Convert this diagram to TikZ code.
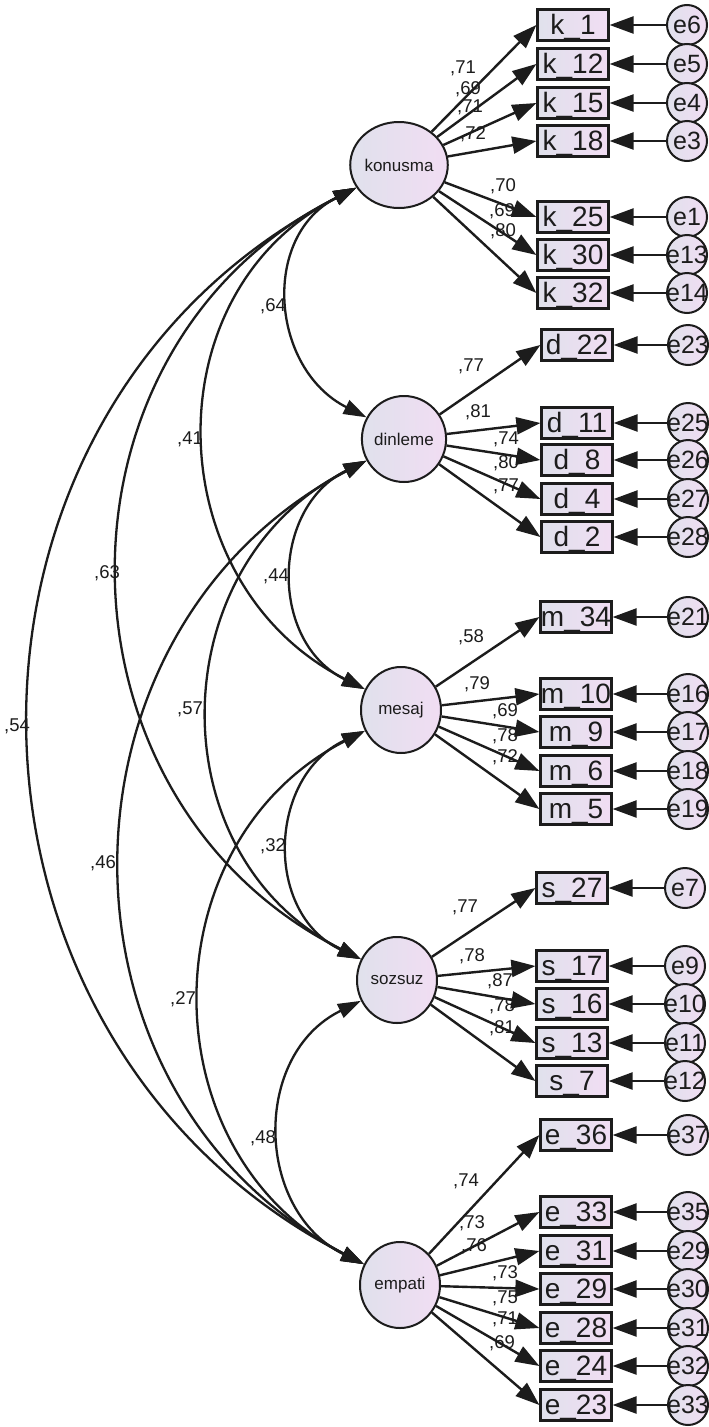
\documentclass[tikz,border=0pt]{standalone}
\usepackage{fontspec}
\setmainfont{Liberation Sans}
\usetikzlibrary{arrows.meta,shapes.geometric}
\definecolor{ink}{RGB}{28,28,28}
\definecolor{fillL}{RGB}{224,225,236}
\definecolor{fillR}{RGB}{241,221,243}
\newcommand{\zw}[1]{\makebox[0pt]{#1}}
\tikzset{
 lat/.style={ellipse, draw=ink, line width=2pt, minimum width=80pt, minimum height=86pt, inner sep=0pt, left color=fillL, right color=fillR, font=\fontsize{17}{19}\selectfont, text=ink},
 obs/.style={rectangle, draw=ink, line width=2.2pt, minimum width=71pt, minimum height=31pt, inner sep=0pt, text height=24pt, text depth=6pt, left color=fillL, right color=fillR, font=\fontsize{28}{30}\selectfont, text=ink},
 err/.style={circle, draw=ink, line width=2pt, minimum size=40pt, inner sep=0pt, left color=fillL, right color=fillR, font=\fontsize{25}{27}\selectfont, text=ink},
 load/.style={draw=ink, line width=2.4pt, -{Triangle[length=24pt,width=17pt]}},
 cov/.style={draw=ink, line width=2.3pt, {Triangle[length=23pt,width=15pt]}-{Triangle[length=23pt,width=15pt]}},
 coef/.style={font=\fontsize{18.5}{20}\selectfont, text=ink, inner sep=0pt, anchor=base},
}
\begin{document}
\begin{tikzpicture}[x=1pt,y=1pt]
\useasboundingbox (0,0) rectangle (709,-1427);
\clip (0,0) rectangle (709,-1427);
\fill[white] (0,0) rectangle (709,-1427);
% coefficient labels (loadings)
\node[coef] (c1) at (463,-73.5) {,71};
\node[coef] (c2) at (468,-94.5) {,69};
\node[coef] (c3) at (470,-112.5) {,71};
\node[coef] (c4) at (473,-139.5) {,72};
\node[coef] (c5) at (503,-191.5) {,70};
\node[coef] (c6) at (502,-216.5) {,69};
\node[coef] (c7) at (503,-236.5) {,80};
\node[coef] (c8) at (471,-371.5) {,77};
\node[coef] (c9) at (478,-417.5) {,81};
\node[coef] (c10) at (506,-444.5) {,74};
\node[coef] (c11) at (506,-468.5) {,80};
\node[coef] (c12) at (506,-491.5) {,77};
\node[coef] (c13) at (471,-642.5) {,58};
\node[coef] (c14) at (477,-689.5) {,79};
\node[coef] (c15) at (505,-716.5) {,69};
\node[coef] (c16) at (505,-741.5) {,78};
\node[coef] (c17) at (505,-762.5) {,72};
\node[coef] (c18) at (465,-912.5) {,77};
\node[coef] (c19) at (472,-961.5) {,78};
\node[coef] (c20) at (500,-986.5) {,87};
\node[coef] (c21) at (502,-1011.5) {,78};
\node[coef] (c22) at (502,-1033.5) {,81};
\node[coef] (c23) at (466,-1186.5) {,74};
\node[coef] (c24) at (472,-1228.5) {,73};
\node[coef] (c25) at (474,-1251.5) {,76};
\node[coef] (c26) at (505,-1278.5) {,73};
\node[coef] (c27) at (505,-1303.5) {,75};
\node[coef] (c28) at (505,-1324.5) {,71};
\node[coef] (c29) at (502,-1348.5) {,69};
% coefficient labels (covariances)
\node[coef] (v1) at (273,-311.5) {,64};
\node[coef] (v2) at (190,-444.5) {,41};
\node[coef] (v3) at (107,-578.5) {,63};
\node[coef] (v4) at (276,-581.5) {,44};
\node[coef] (v5) at (17,-731.5) {,54};
\node[coef] (v6) at (190,-714.5) {,57};
\node[coef] (v7) at (103,-868.5) {,46};
\node[coef] (v8) at (273,-851.5) {,32};
\node[coef] (v9) at (183,-1004.5) {,27};
\node[coef] (v10) at (263,-1143.5) {,48};
% latent variables
\node[lat] (K) at (399,-165) {konusma};
\node[lat] (D) at (404,-439) {dinleme};
\node[lat] (M) at (401,-710) {mesaj};
\node[lat] (S) at (397,-980) {sozsuz};
\node[lat] (E) at (400,-1285) {empati};
% observed: konusma
\node[obs] (bk1) at (573,-25) {k\_1};
\node[obs] (bk12) at (573,-64) {k\_12};
\node[obs] (bk15) at (573,-103) {k\_15};
\node[obs] (bk18) at (573,-141) {k\_18};
\node[obs] (bk25) at (573,-217) {k\_25};
\node[obs] (bk30) at (573,-255) {k\_30};
\node[obs] (bk32) at (573,-293) {k\_32};
% observed: dinleme
\node[obs] (bd22) at (577,-345) {d\_22};
\node[obs] (bd11) at (577,-423) {d\_11};
\node[obs] (bd8) at (577,-460) {d\_8};
\node[obs] (bd4) at (577,-499) {d\_4};
\node[obs] (bd2) at (577,-537) {d\_2};
% observed: mesaj
\node[obs] (bm34) at (576,-617) {m\_34};
\node[obs] (bm10) at (576,-694) {m\_10};
\node[obs] (bm9) at (576,-732) {m\_9};
\node[obs] (bm6) at (576,-771) {m\_6};
\node[obs] (bm5) at (576,-809) {m\_5};
% observed: sozsuz
\node[obs] (bs27) at (572,-888) {s\_27};
\node[obs] (bs17) at (572,-966) {s\_17};
\node[obs] (bs16) at (572,-1004) {s\_16};
\node[obs] (bs13) at (572,-1043) {s\_13};
\node[obs] (bs7) at (572,-1081) {s\_7};
% observed: empati
\node[obs] (be36) at (576,-1135) {e\_36};
\node[obs] (be33) at (576,-1212) {e\_33};
\node[obs] (be31) at (576,-1251) {e\_31};
\node[obs] (be29) at (576,-1289) {e\_29};
\node[obs] (be28) at (576,-1328) {e\_28};
\node[obs] (be24) at (576,-1366) {e\_24};
\node[obs] (be23) at (576,-1405) {e\_23};
% errors
\node[err] (r6) at (687,-25) {\zw{e6}};
\node[err] (r5) at (687,-64) {\zw{e5}};
\node[err] (r4) at (687,-103) {\zw{e4}};
\node[err] (r3) at (687,-141) {\zw{e3}};
\node[err] (r1) at (687,-217) {\zw{e1}};
\node[err] (r13) at (687,-255) {\zw{e13}};
\node[err] (r14) at (687,-293) {\zw{e14}};
\node[err] (r23) at (688,-345) {\zw{e23}};
\node[err] (r25) at (688,-423) {\zw{e25}};
\node[err] (r26) at (688,-460) {\zw{e26}};
\node[err] (r27) at (688,-499) {\zw{e27}};
\node[err] (r28) at (688,-537) {\zw{e28}};
\node[err] (r21) at (688,-617) {\zw{e21}};
\node[err] (r16) at (688,-694) {\zw{e16}};
\node[err] (r17) at (688,-732) {\zw{e17}};
\node[err] (r18) at (688,-771) {\zw{e18}};
\node[err] (r19) at (688,-809) {\zw{e19}};
\node[err] (r7) at (685,-888) {\zw{e7}};
\node[err] (r9) at (685,-966) {\zw{e9}};
\node[err] (r10) at (685,-1004) {\zw{e10}};
\node[err] (r11) at (685,-1043) {\zw{e11}};
\node[err] (r12) at (685,-1081) {\zw{e12}};
\node[err] (r37) at (688,-1135) {\zw{e37}};
\node[err] (r35) at (688,-1212) {\zw{e35}};
\node[err] (r29) at (688,-1251) {\zw{e29}};
\node[err] (r30) at (688,-1289) {\zw{e30}};
\node[err] (r31) at (688,-1328) {\zw{e31}};
\node[err] (r32) at (688,-1366) {\zw{e32}};
\node[err] (r33) at (688,-1405) {\zw{e33}};
% loadings
\foreach \b in {bk1,bk12,bk15,bk18,bk25,bk30,bk32} \draw[load] (K) -- (\b.west);
\foreach \b in {bd22,bd11,bd8,bd4,bd2} \draw[load] (D) -- (\b.west);
\foreach \b in {bm34,bm10,bm9,bm6,bm5} \draw[load] (M) -- (\b.west);
\foreach \b in {bs27,bs17,bs16,bs13,bs7} \draw[load] (S) -- (\b.west);
\foreach \b in {be36,be33,be31,be29,be28,be24,be23} \draw[load] (E) -- (\b.west);
% error arrows
\foreach \r/\b in {r6/bk1,r5/bk12,r4/bk15,r3/bk18,r1/bk25,r13/bk30,r14/bk32,
  r23/bd22,r25/bd11,r26/bd8,r27/bd4,r28/bd2,
  r21/bm34,r16/bm10,r17/bm9,r18/bm6,r19/bm5,
  r7/bs27,r9/bs17,r10/bs16,r11/bs13,r12/bs7,
  r37/be36,r35/be33,r29/be31,r30/be29,r31/be28,r32/be24,r33/be23}
  \draw[load] (\r) -- (\b.east);
% covariances
\draw[cov] (K.208) .. controls +(-95.9,-48.5) and +(-95.9,48.5) .. (D.150);
\draw[cov] (D.210) .. controls +(-96.0,-47.0) and +(-96.0,47.0) .. (M.150);
\draw[cov] (M.210) .. controls +(-97.3,-45.7) and +(-97.3,45.7) .. (S.150);
\draw[cov] (S.210) .. controls +(-109.3,-53.6) and +(-109.3,53.6) .. (E.150);
\draw[cov] (K.208) .. controls +(-206.7,-104.9) and +(-206.7,104.9) .. (M.150);
\draw[cov] (D.210) .. controls +(-205.4,-103.8) and +(-205.4,103.8) .. (S.150);
\draw[cov] (M.210) .. controls +(-217.3,-111.3) and +(-217.3,111.3) .. (E.150);
\draw[cov] (K.208) .. controls +(-318.5,-160.1) and +(-318.5,160.1) .. (S.150);
\draw[cov] (D.210) .. controls +(-324.0,-170.0) and +(-324.0,170.0) .. (E.150);
\draw[cov] (K.208) .. controls +(-438.7,-225.5) and +(-438.7,225.5) .. (E.150);
\end{tikzpicture}
\end{document}
